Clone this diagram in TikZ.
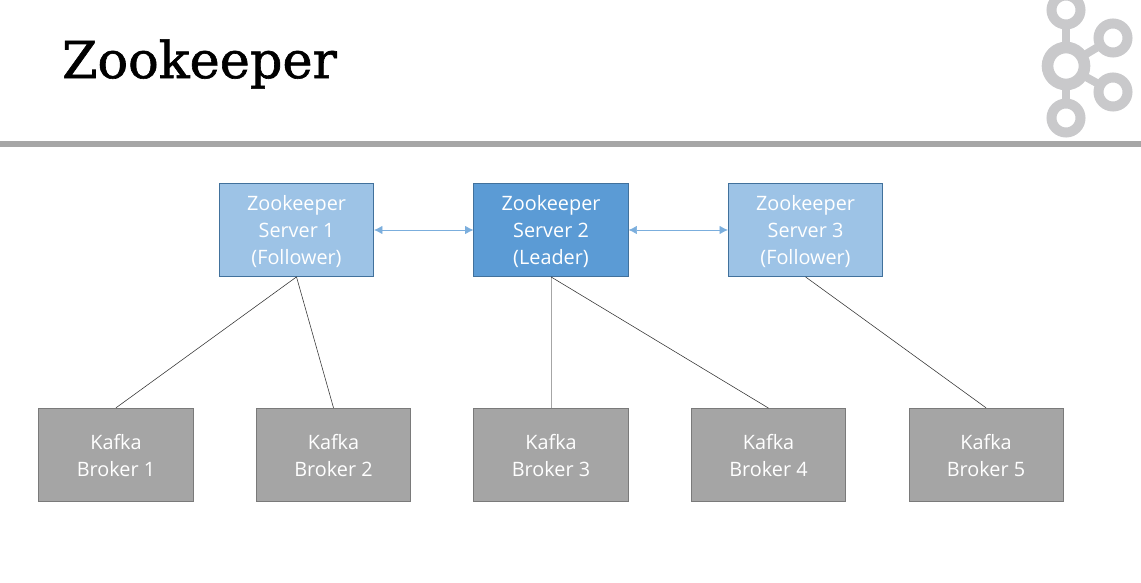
\documentclass[tikz,border=0pt]{standalone}
\usepackage{fontspec}
\setmainfont{Open Sans}
\newfontfamily\titlefont[FakeBold=1.2]{DejaVu Serif}
\usepackage{tikz}
\usetikzlibrary{arrows.meta}

\definecolor{followerblue}{HTML}{9DC3E6}
\definecolor{leaderblue}{HTML}{5B9BD5}
\definecolor{linkblue}{HTML}{7BAEDD}
\definecolor{boxedge}{HTML}{41719C}
\definecolor{brokergray}{HTML}{A5A5A5}
\definecolor{brokeredge}{HTML}{7A7A7A}
\definecolor{logogray}{HTML}{C9C9CB}
\definecolor{rulegray}{HTML}{A6A6A6}

% Text sits a little low in the boxes
\newcommand{\boxtext}[2]{\raisebox{-#1}[\height][\depth]{\parbox{3.85cm}{\centering #2}}}

\tikzset{
	box/.style={draw, line width=0.7pt, text=white, align=center, minimum width=3.85cm, minimum height=2.32cm, inner sep=0pt, font=\fontsize{14.1}{19.2}\selectfont},
	follower/.style={box, fill=followerblue, draw=boxedge},
	leader/.style={box, fill=leaderblue, draw=boxedge},
	broker/.style={box, fill=brokergray, draw=brokeredge},
	peerlink/.style={draw=linkblue, line width=0.5pt, {Latex[length=6pt,width=6pt]}-{Latex[length=6pt,width=6pt]}},
	brokerlink/.style={draw=black!80, line width=0.4pt},
	logoring/.style={draw=logogray, line width=0.25cm},
	logohub/.style={draw=logogray, line width=0.29cm}
}

\begin{document}
\begin{tikzpicture}[x=0.025cm,y=-0.025cm]
	\useasboundingbox (0,0) rectangle (1141,583);

	%Title
	\node (title) at (199.5,64) {\titlefont\fontsize{36.2}{36.2}\selectfont Zookeeper};

	%Rule under the title
	\fill[rulegray] (0,141) rectangle (1141,147);

	%Logo
	\begin{scope}
		\clip (1000,0) rectangle (1141,141);
		\draw[logogray, line width=0.2cm] (1066,10) -- (1066,118);
		\draw[logogray, line width=0.2cm] (1066,66) -- (1113,38);
		\draw[logogray, line width=0.2cm] (1066,66) -- (1113,92);
		\draw[logoring, fill=white] (1066,10) circle (14.5);
		\draw[logoring, fill=white] (1113,38) circle (14.5);
		\draw[logoring, fill=white] (1113,92) circle (14.5);
		\draw[logoring, fill=white] (1066,118) circle (14.5);
		\draw[logohub, fill=white] (1066,66) circle (18.5);
	\end{scope}

	%Zookeeper servers
	\node (server1) at (296.5,230) [follower] {\boxtext{1.4pt}{Zookeeper\\Server 1\\(Follower)}};
	\node (server2) at (551,230) [leader] {\boxtext{1.4pt}{Zookeeper\\Server 2\\(Leader)}};
	\node (server3) at (805.5,230) [follower] {\boxtext{1.4pt}{Zookeeper\\Server 3\\(Follower)}};

	%Kafka brokers
	\node (broker1) at (116,454.7) [broker] {\boxtext{0.6pt}{Kafka\\Broker 1}};
	\node (broker2) at (333.5,454.7) [broker] {\boxtext{0.6pt}{Kafka\\Broker 2}};
	\node (broker3) at (551,454.7) [broker] {\boxtext{0.6pt}{Kafka\\Broker 3}};
	\node (broker4) at (768.5,455) [broker] {\boxtext{0.6pt}{Kafka\\Broker 4}};
	\node (broker5) at (986,454.7) [broker] {\boxtext{0.6pt}{Kafka\\Broker 5}};

	%Links between servers
	\draw[peerlink] (server1) -- (server2);
	\draw[peerlink] (server2) -- (server3);

	%Links down to brokers
	\draw[brokerlink] (server1.south) -- (broker1.north);
	\draw[brokerlink] (server1.south) -- (broker2.north);
	\draw[brokerlink, draw=black!35] (server2.south) -- (broker3.north);
	\draw[brokerlink] (server2.south) -- (broker4.north);
	\draw[brokerlink] (server3.south) -- (broker5.north);
\end{tikzpicture}
\end{document}
